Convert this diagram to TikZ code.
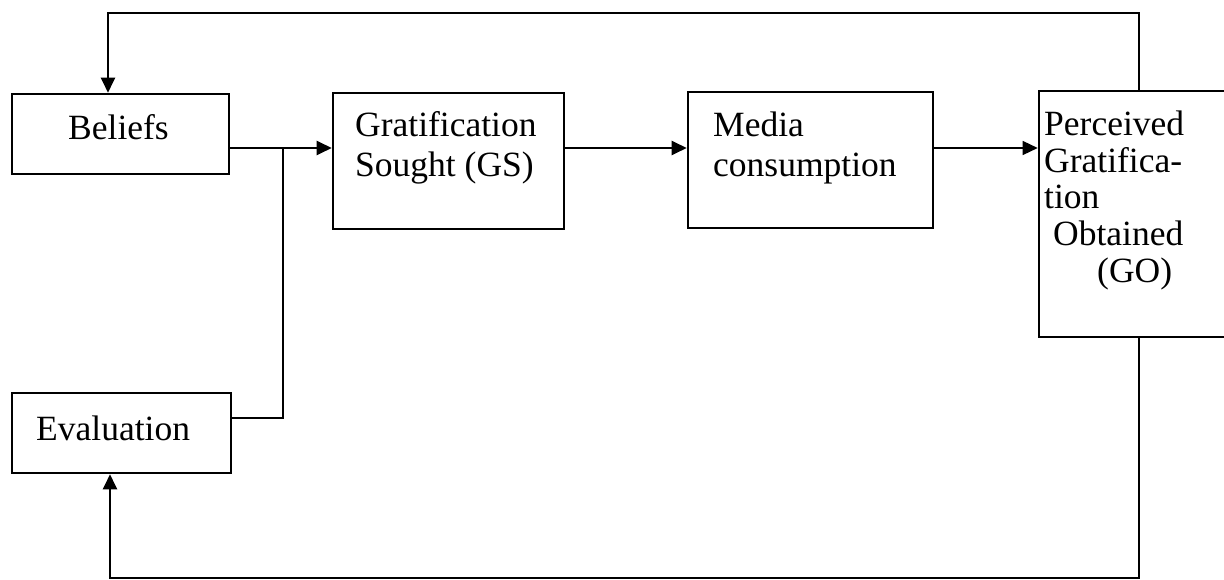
\documentclass[tikz,border=0pt]{standalone}
\usepackage{fontspec}
\setmainfont{Liberation Serif}
\usetikzlibrary{arrows.meta}

\begin{document}
\begin{tikzpicture}[
  x=1pt, y=-1pt,
  box/.style 2 args={draw=black, line width=2.6pt, inner sep=0pt, minimum width=#1, minimum height=#2},
  txt/.style={anchor=base west, inner sep=0pt, align=left, font=\fontsize{35.5}{40}\selectfont},
  arr/.style={-{Triangle[length=15pt, width=14pt]}, line width=2.4pt},
  link/.style={line width=2.4pt}
]
  \useasboundingbox (0,0) rectangle (1224,580);

  % boxes
  \node[box={217pt}{80pt}] (beliefs) at (120.5,134) {};
  \node[box={231pt}{136pt}] (gs) at (448.5,161) {};
  \node[box={245pt}{136pt}] (media) at (810.5,160) {};
  \node[box={230pt}{246pt}] (perc) at (1154,214) {};
  \node[box={219pt}{80pt}] (eval) at (121.5,433) {};

  % texts (base = last line)
  \node[txt] (beliefstxt) at (68,140) {Beliefs};
  \node[txt] (gstxt) at (355,177) {Gratification\\Sought (GS)};
  \node[txt] (mediatxt) at (713,177) {Media\\consumption};
  \node[txt, font=\fontsize{35.5}{37}\selectfont] (perctxt) at (1044,283)
    {Perceived\\Gratifica-\\tion\\\hspace*{9pt}Obtained\\\hspace*{53pt}(GO)};
  \node[txt] (evaltxt) at (36,440) {Evaluation};

  % corners of the connectors
  \coordinate (rail) at (283,148);
  \coordinate (topL) at (108,13);
  \coordinate (topR) at (1139,13);
  \coordinate (botL) at (110,578);
  \coordinate (botR) at (1139,578);

  \draw[arr] (beliefs.east |- rail) -- (gs.west |- rail);
  \draw[link] ([yshift=15pt]eval.east) -| (rail);
  \draw[arr] (gs.east |- rail) -- (media.west |- rail);
  \draw[arr, line width=1.4pt] (media.east |- rail) -- (perc.west |- rail);
  \draw[arr] (perc.north -| topR) -- (topR) -- (topL) -- (beliefs.north -| topL);
  \draw[arr] (perc.south -| botR) -- (botR) -- (botL) -- (eval.south -| botL);
\end{tikzpicture}
\end{document}
